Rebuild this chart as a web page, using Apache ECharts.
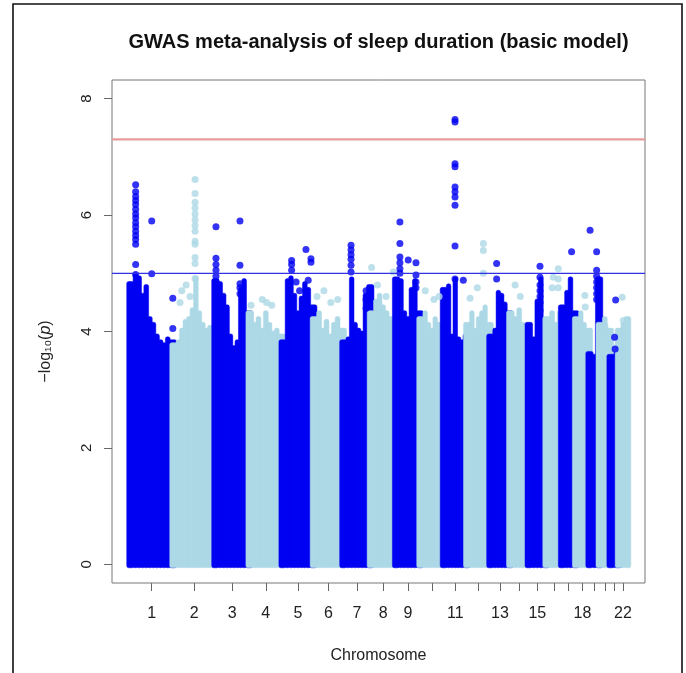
<!DOCTYPE html>
<html><head><meta charset="utf-8">
<script src="https://cdn.jsdelivr.net/npm/echarts@6/dist/echarts.min.js"></script>
<style>html,body{margin:0;padding:0;background:#fff}#c{width:686px;height:673px}</style>
</head><body><div id="c"></div>
<script>
// ---- data ----
const chromosomes = ['1','2','3','4','5','6','7','8','9','10','11','12','13','14','15','16','17','18','19','20','21','22'];
const chromLengthsMb = [249,243,198,191,181,171,159,146,141,136,135,134,115,107,103,90,81,78,59,63,48,51];
const tickLabels = ['1','2','3','4','5','6','7','8','9','','11','','13','','15','','','18','','','','22'];
const yTickValues = [0,2,4,6,8];
// height (-log10 p) reached by the dense band of SNPs, in equal-width bins along each chromosome
const bulkProfiles = [
  [4.8,4.95,4.9,4.6,4.75,4.2,4.1,3.9,3.8,3.75,3.85,3.8],
  [3.75,3.8,4.0,4.15,4.2,4.35,4.9,4.3,4.1,4.0,4.05,4.0],
  [4.85,4.8,4.6,4.4,3.9,3.7,3.8,4.7,4.85,4.3],
  [4.3,4.1,4.2,4.0,4.3,4.1,3.95,4.0,3.9],
  [3.8,4.85,4.9,4.6,4.3,4.55,4.8,4.7,4.4],
  [4.2,4.3,4.0,4.15,3.9,4.1,4.2,4.0],
  [3.8,3.85,4.88,4.1,4.0,3.95,4.6,4.75],
  [4.3,4.5,4.6,4.4,4.3,4.2,4.1],
  [4.88,4.85,4.3,4.2,4.7,4.85,4.3],
  [4.2,4.3,4.1,4.0,4.2,4.1,4.0],
  [4.7,4.76,3.9,4.88,3.85,3.8,3.9],
  [4.1,4.3,4.0,4.2,4.3,4.4,4.1],
  [3.9,4.0,4.65,4.6,4.45,4.3],
  [4.3,4.2,4.35,4.1,4.0],
  [4.1,3.85,4.5,4.88,3.75],
  [4.2,4.3,4.1,4.3],
  [4.4,4.65,4.88,4.3],
  [4.2,4.3,4.1,4.0],
  [3.6,3.55,4.88],
  [4.1,4.2,4.0],
  [3.55,3.6],
  [4.0,4.1,4.2]
];
// individual SNPs standing above the dense band: [chromosome, position in chromosome (Mb), -log10 p]
const topHits = [
  [1,32,6.52],[1,32,6.40],[1,32,6.32],[1,32,6.25],[1,32,6.18],[1,32,6.10],[1,32,6.02],[1,32,5.95],[1,32,5.87],[1,32,5.80],[1,32,5.72],[1,32,5.65],[1,32,5.58],[1,32,5.50],[1,32,5.15],[1,32,4.98],
  [1,125,5.90],[1,125,4.99],[1,247,4.57],[1,247,4.05],
  [2,127,6.61],[2,127,6.37],[2,127,6.22],[2,127,6.12],[2,127,6.02],[2,127,5.92],[2,127,5.82],[2,127,5.72],[2,127,5.55],[2,127,5.50],[2,127,5.27],[2,127,5.17],[2,127,4.91],
  [2,40,4.5],[2,50,4.7],[2,75,4.8],[2,98,4.6],
  [3,5,5.80],[3,5,5.26],[3,5,5.15],[3,5,5.05],[3,5,4.95],[3,5,4.85],
  [3,144,5.90],[3,144,5.14],[3,144,4.82],[3,144,4.75],[3,144,4.65],
  [4,10,4.45],[4,75,4.55],[4,100,4.5],[4,130,4.45],
  [5,54,5.22],[5,54,5.15],[5,54,5.05],[5,137,5.41],[5,166,5.25],[5,166,5.19],[5,80,4.85],[5,150,4.88],[5,100,4.7],
  [6,20,4.6],[6,60,4.7],[6,100,4.5],[6,140,4.55],
  [7,46,5.48],[7,46,5.40],[7,46,5.32],[7,46,5.24],[7,46,5.14],[7,46,5.02],[7,133,4.7],[7,133,4.55],[7,133,4.4],
  [8,6,5.1],[8,132,5.02],[8,40,4.8],[8,90,4.6],
  [9,24,5.88],[9,24,5.51],[9,24,5.28],[9,24,5.18],[9,24,5.08],[9,24,5.0],[9,72,5.23],[9,117,5.18],[9,117,4.97],[9,117,4.85],[9,117,4.75],
  [10,30,4.7],[10,80,4.55],[10,110,4.6],
  [11,66,7.64],[11,66,7.60],[11,66,6.88],[11,66,6.83],[11,66,6.48],[11,66,6.40],[11,66,6.31],[11,66,6.17],[11,66,5.47],[11,66,4.90],[11,114,4.88],
  [12,95,5.51],[12,95,5.39],[12,95,5.0],[12,18,4.57],[12,60,4.75],
  [13,38,5.17],[13,38,4.9],[13,57,4.6],[13,57,4.5],[13,57,4.4],[13,57,4.3],
  [14,30,4.8],[14,60,4.6],
  [15,67,5.12],[15,67,4.93],[15,67,4.8],[15,67,4.7],[15,67,4.6],[15,67,4.5],[15,67,4.36],
  [16,70,5.08],[16,70,4.9],[16,70,4.75],[16,41,4.93],[16,35,4.75],
  [17,57,5.37],
  [18,53,4.62],[18,55,4.42],
  [19,5,5.74],[19,43,5.37],[19,43,5.05],[19,43,4.95],[19,43,4.85],[19,43,4.75],[19,43,4.65],[19,43,4.55],
  [20,32,4.1],
  [21,31,4.54],[21,25,3.9],[21,28,3.7],
  [22,21,4.59],[22,27,4.19]
];
const suggestiveLine = 5;
const genomeWideLine = 7.3;

// ---- build ----
const BLUE = '#0000F2', LIGHT = '#ADD8E6';
const FONT = 'Liberation Sans, Arial, Helvetica, sans-serif';
const starts = []; let acc = 0;
chromLengthsMb.forEach(l => { starts.push(acc); acc += l; });
const centers = starts.map((s, i) => s + chromLengthsMb[i] / 2);
const bulkData = [];
bulkProfiles.forEach((prof, c) => {
  const w = chromLengthsMb[c] / prof.length;
  prof.forEach((h, i) => bulkData.push([starts[c] + i * w, starts[c] + (i + 1) * w, h, c, i, prof.length]));
});
const hitData = topHits.map(([chr, pos, v]) => ({
  value: [starts[chr - 1] + pos, v],
  itemStyle: { color: chr % 2 ? BLUE : LIGHT }
}));
function labelFor(v) {
  for (let i = 0; i < centers.length; i++) if (Math.abs(centers[i] - v) < 1e-6) return tickLabels[i];
  return '';
}
const R = 3.4;
function renderBulk(params, api) {
  const x0 = api.value(0), x1 = api.value(1), h = api.value(2), c = api.value(3), i = api.value(4), n = api.value(5);
  const p0 = api.coord([x0, 0]), p1 = api.coord([x1, h]);
  const left = p0[0] - (i === 0 ? R : 0.6), right = p1[0] + (i === n - 1 ? R : 0.6);
  const top = p1[1] - R, bottom = p0[1] + R;
  const fill = c % 2 === 0 ? BLUE : LIGHT;
  return { type: 'rect', shape: { x: left, y: top, width: right - left, height: bottom - top, r: 2 },
    style: { fill: fill, stroke: fill, lineWidth: 0.5 } };
}
const X_MIN = -105, X_MAX = 2981;

const chart = echarts.init(document.getElementById('c'), null, { renderer: 'canvas' });
chart.setOption({
  animation: false,
  backgroundColor: '#fff',
  title: {
    text: 'GWAS meta-analysis of sleep duration (basic model)',
    left: 378.5, top: 32, padding: 0, textAlign: 'center',
    textStyle: { fontFamily: FONT, fontSize: 20, fontWeight: 'bold', color: '#111' }
  },
  graphic: [{ type: 'rect', shape: { x: 13, y: 4, width: 669, height: 720 }, style: { fill: 'none', stroke: '#111', lineWidth: 1.6 }, silent: true }],
  grid: { left: 112, right: 41, top: 80, bottom: 90, show: true, borderColor: '#777', borderWidth: 1, backgroundColor: 'transparent' },
  xAxis: {
    type: 'value', min: X_MIN, max: X_MAX,
    name: 'Chromosome', nameLocation: 'middle', nameGap: 65,
    nameTextStyle: { fontFamily: FONT, fontSize: 16, color: '#222' },
    axisLine: { show: false, onZero: false }, splitLine: { show: false },
    axisTick: { show: true, customValues: centers, length: 8, lineStyle: { color: '#666' } },
    axisLabel: { customValues: centers, formatter: labelFor, margin: 23, fontFamily: FONT, fontSize: 16, color: '#222' }
  },
  yAxis: {
    type: 'value', min: -0.32, max: 8.32,
    name: '{a|−log₁₀(}{i|p}{a|)}', nameLocation: 'middle', nameRotate: 90, nameGap: 58,
    nameTextStyle: { fontFamily: FONT, fontSize: 16, color: '#222', padding: [0, 40, 0, 0],
      rich: { a: { fontFamily: FONT, fontSize: 16, color: '#222' }, i: { fontFamily: FONT, fontSize: 16, fontStyle: 'italic', color: '#222' } } },
    axisLine: { show: false, onZero: false }, splitLine: { show: false },
    axisTick: { show: true, customValues: yTickValues, length: 8, lineStyle: { color: '#666' } },
    axisLabel: { customValues: yTickValues, rotate: 90, margin: 18, fontFamily: FONT, fontSize: 15, color: '#222' }
  },
  series: [
    { type: 'custom', renderItem: renderBulk, data: bulkData, encode: { x: [0, 1], y: 2 }, silent: true, z: 2 },
    { type: 'scatter', data: hitData, symbolSize: 7, silent: true, z: 3 },
    { type: 'line', data: [[X_MIN, genomeWideLine], [X_MAX, genomeWideLine]], symbol: 'none', silent: true, z: 4,
      lineStyle: { color: '#E79C9C', width: 2.2 } },
    { type: 'line', data: [[X_MIN, suggestiveLine], [X_MAX, suggestiveLine]], symbol: 'none', silent: true, z: 4,
      lineStyle: { color: '#3030E8', width: 1.3 } }
  ]
});
</script></body></html>
